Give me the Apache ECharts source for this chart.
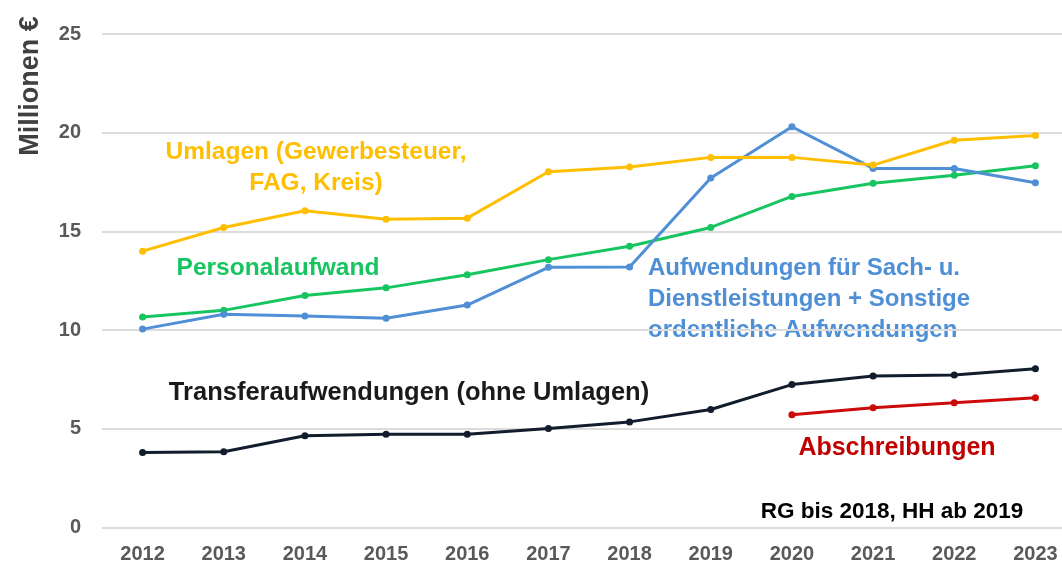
<!DOCTYPE html>
<html>
<head>
<meta charset="utf-8">
<script src="https://cdn.jsdelivr.net/npm/echarts@6/dist/echarts.min.js"></script>
<style>
html,body{margin:0;padding:0;background:#fff;}
#chart{width:1062px;height:562px;}
</style>
</head>
<body>
<div id="chart"></div>
<script>
const years = ['2012','2013','2014','2015','2016','2017','2018','2019','2020','2021','2022','2023'];
const yTicks = [0, 5, 10, 15, 20, 25];
const umlagen = [14.0, 15.2, 16.05, 15.62, 15.67, 18.02, 18.26, 18.75, 18.75, 18.36, 19.62, 19.86];
const personal = [10.66, 11.0, 11.75, 12.14, 12.8, 13.57, 14.25, 15.2, 16.77, 17.44, 17.85, 18.32];
const sachDienst = [10.05, 10.8, 10.72, 10.6, 11.27, 13.18, 13.2, 17.7, 20.3, 18.19, 18.19, 17.46];
const transfer = [3.8, 3.84, 4.65, 4.72, 4.72, 5.02, 5.35, 5.98, 7.24, 7.67, 7.72, 8.04];
const abschreibungen = [null, null, null, null, null, null, null, null, 5.71, 6.07, 6.32, 6.57];

const FONT = '"Liberation Sans", Arial, sans-serif';
const chart = echarts.init(document.getElementById('chart'));

function lineSeries(name, data, color) {
  return {
    name: name, type: 'line', data: data,
    symbol: 'circle', symbolSize: 7,
    lineStyle: { color: color, width: 3 },
    itemStyle: { color: color },
    connectNulls: false,
    animation: false
  };
}

function annot(x, y, text, color, align, size) {
  return {
    type: 'text', x: x, y: y,
    style: {
      text: text, fill: color, font: 'bold ' + size + 'px ' + FONT,
      textAlign: align, textVerticalAlign: 'middle', lineHeight: 31
    }
  };
}

chart.setOption({
  animation: false,
  backgroundColor: '#ffffff',
  grid: { left: 102, right: -14, top: 34, bottom: 34.5, containLabel: false, outerBoundsMode: 'none' },
  xAxis: {
    type: 'category', data: years, boundaryGap: true,
    axisLine: { show: false }, axisTick: { show: false },
    axisLabel: { color: '#595959', fontFamily: FONT, fontWeight: 'bold', fontSize: 20, margin: 17 }
  },
  yAxis: {
    type: 'value', min: yTicks[0], max: yTicks[yTicks.length - 1], interval: 5,
    axisLine: { show: false }, axisTick: { show: false },
    axisLabel: { color: '#595959', fontFamily: FONT, fontWeight: 'bold', fontSize: 20, margin: 21 },
    splitLine: { lineStyle: { color: '#dcdcdc', width: 2 } }
  },
  series: [
    lineSeries('Transferaufwendungen (ohne Umlagen)', transfer, '#111c2c'),
    lineSeries('Abschreibungen', abschreibungen, '#CC0A0A'),
    lineSeries('Personalaufwand', personal, '#17C560'),
    lineSeries('Aufwendungen für Sach- u. Dienstleistungen + Sonstige ordentliche Aufwendungen', sachDienst, '#4F8FD6'),
    lineSeries('Umlagen (Gewerbesteuer, FAG, Kreis)', umlagen, '#FFBF00')
  ],
  graphic: [
    {
      type: 'text', x: 31, y: 86, rotation: Math.PI / 2,
      style: { text: 'Millionen €', fill: '#404040', font: 'bold 27px ' + FONT, textAlign: 'center', textVerticalAlign: 'middle' }
    },
    annot(316, 168, 'Umlagen (Gewerbesteuer,\nFAG, Kreis)', '#FFBF00', 'center', 24.5),
    annot(278, 268, 'Personalaufwand', '#17C560', 'center', 24.5),
    annot(648, 299, 'Aufwendungen für Sach- u.\nDienstleistungen + Sonstige\nordentliche Aufwendungen', '#4F8FD6', 'left', 24),
    annot(409, 393, 'Transferaufwendungen (ohne Umlagen)', '#1a1a1a', 'center', 25.5),
    annot(897, 448, 'Abschreibungen', '#C00000', 'center', 25),
    annot(892, 512, 'RG bis 2018, HH ab 2019', '#000000', 'center', 22.5)
  ]
});
</script>
</body>
</html>
